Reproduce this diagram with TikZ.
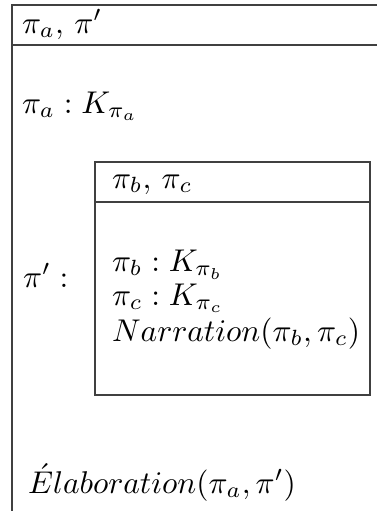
\documentclass[tikz,border=0pt]{standalone}
\begin{document}
\begin{tikzpicture}[x=0.318pt,y=-0.318pt,
  boxline/.style={draw=black!75,line width=0.45pt},
  txt/.style={anchor=base west,inner sep=0pt,outer sep=0pt}]
\useasboundingbox (0,0) rectangle (377,511);
\clip (0,0) rectangle (377,511);
% outer box
\draw[boxline] (12,540) -- (12,5) -- (400,5);
\draw[boxline] (12,45) -- (400,45);
% inner box
\draw[boxline] (95,162) rectangle (370,395);
\draw[boxline] (95,202) -- (370,202);
% texts
\node[txt] (h1) at (22,33) {$\pi_a,\, \pi'$};
\node[txt] (l1) at (22,113) {$\pi_a : K_{\pi_a}$};
\node[txt] (l2) at (23,287) {$\pi' :$};
\node[txt] (h2) at (112,188) {$\pi_b,\, \pi_c$};
\node[txt] (i1) at (112,271) {$\pi_b : K_{\pi_b}$};
\node[txt] (i2) at (112,305) {$\pi_c : K_{\pi_c}$};
\node[txt] (i3) at (112,341) {$Narration(\pi_b, \pi_c)$};
\node[txt] (l3) at (28,493) {$\acute{E}laboration(\pi_a, \pi')$};
\end{tikzpicture}
\end{document}
